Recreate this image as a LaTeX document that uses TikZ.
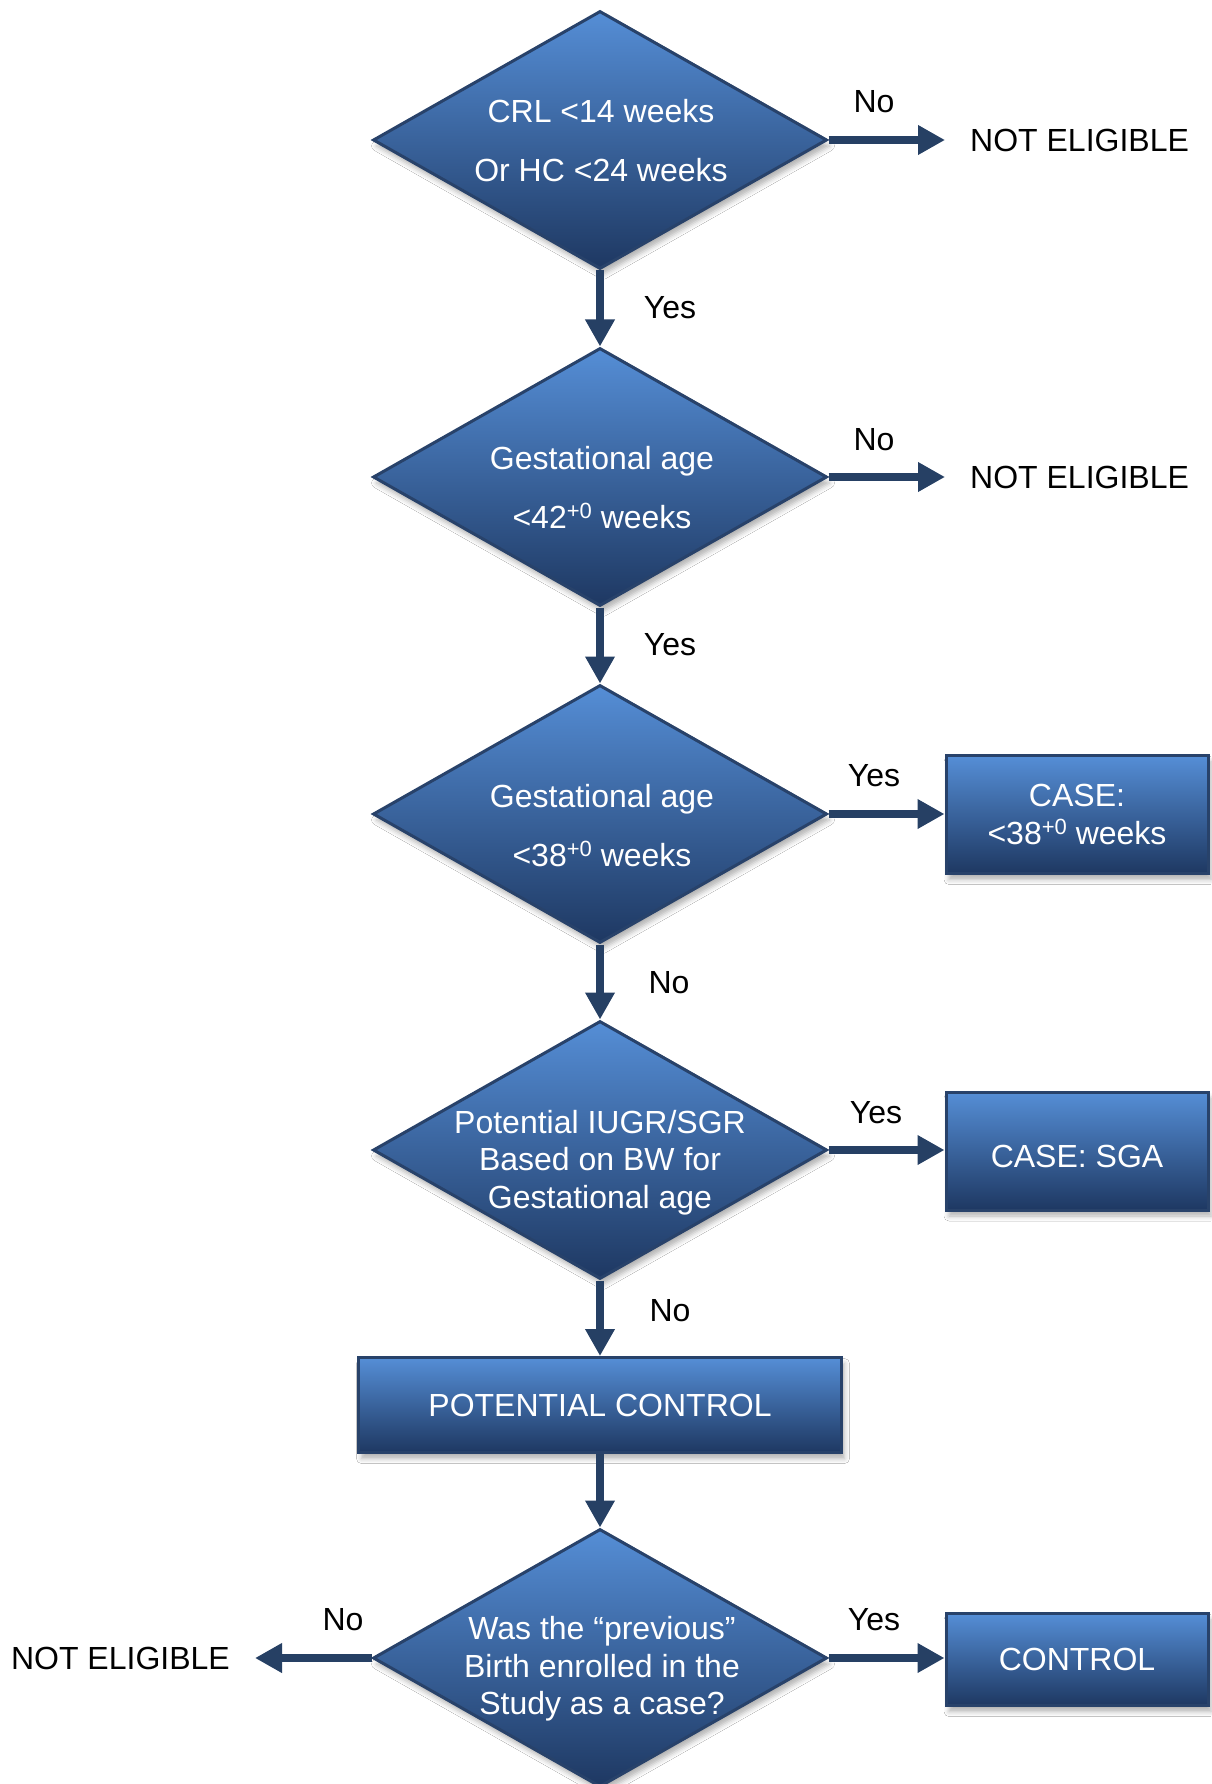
\documentclass[tikz,border=0pt]{standalone}
\usepackage{fontspec}
\setmainfont{Liberation Sans}
\usetikzlibrary{shapes.geometric,arrows.meta,shadows.blur}
\definecolor{bluetop}{RGB}{85,142,214}
\definecolor{bluemid}{RGB}{63,109,172}
\definecolor{bluebot}{RGB}{30,56,98}
\definecolor{edgeblue}{RGB}{40,66,106}
\definecolor{arrowblue}{RGB}{38,64,100}
\newcommand\plusz{\raisebox{10pt}{\fontsize{22}{22}\selectfont +0}}
\begin{document}
\begin{tikzpicture}[x=1pt,y=-1pt,
  shapeshadow/.style={blur shadow={shadow xshift=3pt,shadow yshift=-6pt,shadow blur radius=5pt,shadow opacity=30}},
  dec/.style={diamond, draw=edgeblue, line width=3pt, minimum width=454pt, minimum height=258pt,
    inner sep=0pt, top color=bluetop, middle color=bluemid, bottom color=bluebot, shapeshadow},
  boxnode/.style={rectangle, draw=edgeblue, line width=3pt, inner sep=0pt,
    top color=bluetop, middle color=bluemid, bottom color=bluebot, shapeshadow,
    text=white, align=center, font={\fontsize{32}{38}\selectfont}},
  dtextwide/.style={text=white, align=center, inner sep=0pt, font={\fontsize{32}{59}\selectfont}},
  dtext/.style={text=white, align=center, inner sep=0pt, font={\fontsize{32}{37.5}\selectfont}},
  lab/.style={text=black, inner sep=0pt, font={\fontsize{32}{38}\selectfont}},
  endtxt/.style={text=black, inner xsep=25pt, inner ysep=0pt, font={\fontsize{32}{38}\selectfont}},
  conn/.style={draw=arrowblue, line width=8.5pt, -{Triangle[length=27pt,width=28pt]}},
]
\useasboundingbox[fill=white] (0,0) rectangle (1211,1784);

% decision diamonds
\node[dec] (d1) at (600,140) {};
\node[dec] (d2) at (600,477) {};
\node[dec] (d3) at (600,814) {};
\node[dec] (d4) at (600,1150) {};
\node[dec] (d5) at (600,1658) {};

% diamond texts
\node[dtextwide] (t1) at (601,140.5) {CRL <14 weeks\\Or HC <24 weeks};
\node[dtextwide] (t2) at (602,488) {Gestational age\\<42\plusz{} weeks};
\node[dtextwide] (t3) at (602,825.5) {Gestational age\\<38\plusz{} weeks};
\node[dtext] (t4) at (600,1162.5) {Potential IUGR/SGR\\Based on BW for\\Gestational age};
\node[dtext] (t5) at (602,1669) {Was the “previous”\\Birth enrolled in the\\Study as a case?};

% boxes
\node[boxnode, minimum width=262pt, minimum height=118pt] (case1) at (1077,814.5) {CASE:\\<38\plusz{} weeks};
\node[boxnode, minimum width=262pt, minimum height=118pt, text height=33pt] (sga) at (1077,1151) {CASE: SGA};
\node[boxnode, minimum width=483pt, minimum height=95pt] (pc) at (600,1405) {POTENTIAL CONTROL};
\node[boxnode, minimum width=262pt, minimum height=92pt] (ctrl) at (1077,1659.5) {CONTROL};

% end texts
\node[endtxt, anchor=west] (ne1) at (945,140) {NOT ELIGIBLE};
\node[endtxt, anchor=west] (ne2) at (945,477) {NOT ELIGIBLE};
\node[endtxt, anchor=east] (ne3) at (255,1658) {NOT ELIGIBLE};

% connectors
\draw[conn] (d1.south) -- (d2.north);
\draw[conn] (d2.south) -- (d3.north);
\draw[conn] (d3.south) -- (d4.north);
\draw[conn] (d4.south) -- (pc.north);
\draw[conn] (pc.south) -- (d5.north);
\draw[conn] (d1.east) -- (d1.east -| ne1.west);
\draw[conn] (d2.east) -- (d2.east -| ne2.west);
\draw[conn] (d3.east) -- (d3.east -| case1.west);
\draw[conn] (d4.east) -- (d4.east -| sga.west);
\draw[conn] (d5.east) -- (d5.east -| ctrl.west);
\draw[conn] (d5.west) -- (d5.west -| ne3.east);

% labels
\node[lab] (l1) at (874,102) {No};
\node[lab] (l2) at (670,308) {Yes};
\node[lab] (l3) at (874,440) {No};
\node[lab] (l4) at (670,645) {Yes};
\node[lab] (l5) at (874,776) {Yes};
\node[lab] (l6) at (669,983) {No};
\node[lab] (l7) at (876,1113) {Yes};
\node[lab] (l8) at (670,1311) {No};
\node[lab] (l9) at (343,1620) {No};
\node[lab] (l10) at (874,1620) {Yes};
\end{tikzpicture}
\end{document}
